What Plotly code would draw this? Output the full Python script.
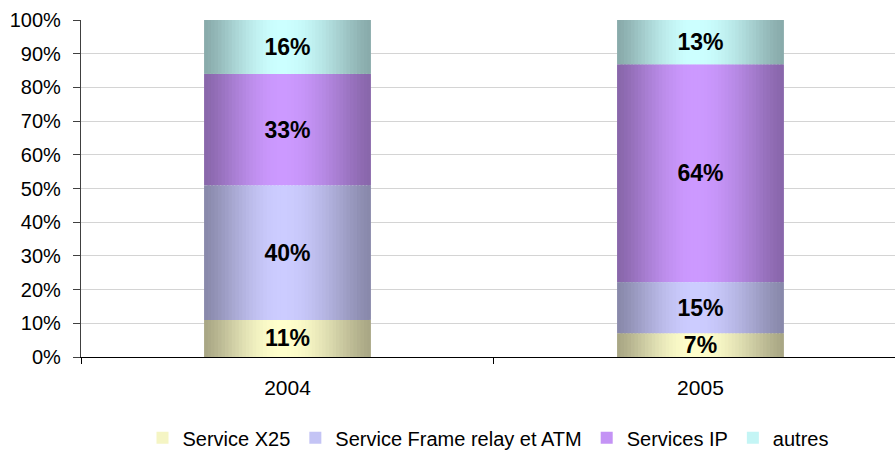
import plotly.graph_objects as go
import math

categories = ["2004", "2005"]
series_names = ["Service X25", "Service Frame relay et ATM", "Services IP", "autres"]
x25 = [11, 7]
frame_relay_atm = [40, 15]
services_ip = [33, 64]
autres = [16, 13]
series_values = [x25, frame_relay_atm, services_ip, autres]

edge_colors = [(168, 166, 132), (136, 136, 170), (136, 102, 170), (136, 170, 170)]
center_colors = [(255, 255, 204), (204, 204, 255), (204, 153, 255), (204, 255, 255)]

FONT = "Liberation Sans, Arial, sans-serif"
BAR_W = 0.404
N_SLICES = 48

# normalise to 100 % per category
totals = [sum(s[i] for s in series_values) for i in range(len(categories))]
pct = [[v / totals[i] * 100 for i, v in enumerate(s)] for s in series_values]
bases = []
for k in range(len(series_values)):
    bases.append([sum(pct[j][i] for j in range(k)) for i in range(len(categories))])

def mix(c0, c1, s):
    return "rgb(%d,%d,%d)" % tuple(round(a + (b - a) * s) for a, b in zip(c0, c1))

fig = go.Figure()
sw = BAR_W / N_SLICES
for k, name in enumerate(series_names):
    for j in range(N_SLICES):
        p = (j + 0.5) / N_SLICES
        peak = 0.47
        d = (p - peak) / (peak if p < peak else 1 - peak)
        s = math.cos(min(abs(d), 1) * math.pi / 2) ** 1.3
        col = mix(edge_colors[k], center_colors[k], s)
        w = sw * (1.0 if j == N_SLICES - 1 else 1.6)
        fig.add_trace(go.Bar(
            x=categories, y=pct[k], base=bases[k],
            width=w, offset=-BAR_W / 2 + j * sw,
            marker=dict(color=col, line=dict(width=0)),
            name=name, legendgroup=name,
            showlegend=(j == N_SLICES // 2 - 8),
            hoverinfo="skip",
        ))
    # labels
    fig.add_trace(go.Bar(
        x=categories, y=pct[k], base=bases[k],
        width=BAR_W, offset=-BAR_W / 2,
        marker=dict(color="rgba(0,0,0,0)", line=dict(width=0)),
        text=["%d%%" % v for v in series_values[k]],
        textposition="inside", insidetextanchor="middle",
        constraintext="none",
        textfont=dict(family=FONT, size=23, color="black", weight="bold"),
        showlegend=False, hoverinfo="skip",
    ))

fig.update_layout(
    barmode="overlay",
    width=895, height=450,
    margin=dict(l=81, r=0, t=20, b=93),
    paper_bgcolor="white", plot_bgcolor="white",
    font=dict(family=FONT, size=20, color="black"),
    showlegend=True,
    legend=dict(orientation="h", x=0.5, xanchor="center",
                yref="container", y=0.027, yanchor="middle",
                font=dict(family=FONT, size=20, color="black"),
                traceorder="normal", itemwidth=30),
)
fig.update_xaxes(
    type="category", range=[-0.5, 1.471], automargin=False,
    showline=True, linecolor="black", linewidth=1.3,
    ticks="outside", tickson="boundaries", ticklen=6, tickcolor="black",
    showgrid=False, tickfont=dict(family=FONT, size=21, color="black"),
    ticklabelstandoff=12,
)
fig.update_yaxes(
    range=[0, 100], dtick=10, ticksuffix="%", automargin=False,
    showline=True, linecolor="#404040", linewidth=1.3,
    ticks="outside", ticklen=7, tickcolor="#404040",
    showgrid=True, gridcolor="#D4D4D4", gridwidth=1.3,
    tickfont=dict(family=FONT, size=20, color="black"),
    ticklabelstandoff=8,
    zeroline=False,
)

fig.write_html("out.html", config={"displayModeBar": False},
               post_script="document.body.style.margin='0';")
